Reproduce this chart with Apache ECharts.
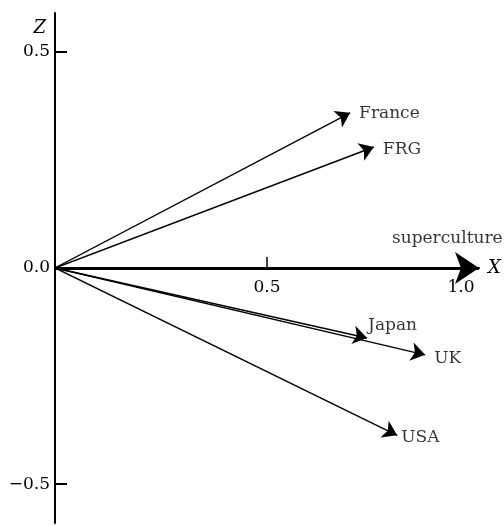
<!DOCTYPE html>
<html>
<head>
<meta charset="utf-8">
<script src="https://cdn.jsdelivr.net/npm/echarts@6/dist/echarts.min.js"></script>
<style>
  html, body { margin: 0; padding: 0; background: #fff; }
  #chart { width: 504px; height: 525px; }
</style>
</head>
<body>
<div id="chart"></div>
<script>
// loadings
const countries = ['France', 'FRG', 'superculture', 'Japan', 'UK', 'USA'];
const xLoad = [0.696, 0.752, 1.0, 0.736, 0.873, 0.807];
const zLoad = [0.359, 0.280, 0.0, -0.162, -0.201, -0.387];

const xTickLabels = [0.5, 1.0];
const zTickLabels = [0.5, 0.0, -0.5];
const zTicks = [0.5, -0.5];
const zMin = -0.59, zMax = 0.59;

const font = '"DejaVu Serif", "Liberation Serif", serif';

// label nudges, in pixels
const labelOffset = {
    France: [4, 1],
    FRG: [4, 3],
    superculture: [-92, -29],
    Japan: [-4, -12],
    UK: [4, 4],
    USA: [-1, 2]
};

const fmt = v => (v < 0 ? '\u2212' : '') + Math.abs(v).toFixed(1);

window.addEventListener('DOMContentLoaded', () => {
    const dom = document.getElementById('chart');
    const myChart = echarts.init(dom, null, {renderer: 'canvas'});

    const grid = {left: 55, right: 25, top: 13, bottom: 2};
    const plotH = dom.clientHeight - grid.top - grid.bottom;
    // keep the x axis (with its labels) on z = 0
    const xOffset = -plotH * (0 - zMin) / (zMax - zMin);

    const vectors = countries.map((name, i) => {
        const bold = name === 'superculture';
        return {
            coords: [[0, 0], [xLoad[i], zLoad[i]]],
            symbolSize: bold ? [13, 24] : [5, 14],
            lineStyle: {width: bold ? 3 : 1.4}
        };
    });

    const tips = countries.map((name, i) => ({
        value: [xLoad[i], zLoad[i]],
        name: name,
        label: {offset: labelOffset[name]}
    }));

    myChart.setOption({
        animation: false,
        backgroundColor: '#fff',
        grid: Object.assign({outerBoundsMode: 'none', containLabel: false}, grid),
        xAxis: {
            type: 'value',
            min: 0,
            max: 1.0,
            position: 'bottom',
            offset: xOffset,
            name: 'X',
            nameLocation: 'end',
            nameGap: 9,
            nameTextStyle: {fontFamily: font, fontStyle: 'italic', fontSize: 18, color: '#000'},
            splitLine: {show: false},
            axisLine: {show: true, onZero: false, lineStyle: {color: '#000', width: 2}},
            axisTick: {show: true, inside: true, length: 11, customValues: [0.5], lineStyle: {color: '#000', width: 1.5}},
            axisLabel: {
                customValues: xTickLabels,
                margin: 11,
                fontFamily: font,
                fontSize: 17,
                color: '#000',
                formatter: v => v === 1 ? '{r|' + fmt(v) + '}' : fmt(v),
                rich: {r: {fontFamily: font, fontSize: 17, color: '#000', padding: [0, 36, 0, 0]}}
            }
        },
        yAxis: {
            type: 'value',
            min: zMin,
            max: zMax,
            name: 'Z',
            nameLocation: 'end',
            nameGap: -24,
            nameTextStyle: {fontFamily: font, fontStyle: 'italic', fontSize: 18, color: '#000', align: 'right', padding: [0, 9, 0, 0]},
            splitLine: {show: false},
            axisLine: {show: true, onZero: false, lineStyle: {color: '#000', width: 2}},
            axisTick: {show: true, inside: true, length: 12, customValues: zTicks, lineStyle: {color: '#000', width: 2}},
            axisLabel: {
                customValues: zTickLabels,
                margin: 5,
                fontFamily: font,
                fontSize: 17,
                color: '#000',
                formatter: fmt
            }
        },
        series: [
            {
                type: 'lines',
                coordinateSystem: 'cartesian2d',
                symbol: ['none', 'arrow'],
                lineStyle: {color: '#000', opacity: 1},
                itemStyle: {color: '#000'},
                data: vectors,
                z: 3
            },
            {
                type: 'scatter',
                symbolSize: 0,
                silent: true,
                label: {
                    show: true,
                    position: 'right',
                    formatter: '{b}',
                    fontFamily: font,
                    fontSize: 17,
                    color: '#000'
                },
                data: tips,
                z: 4
            }
        ]
    });
});
</script>
</body>
</html>
